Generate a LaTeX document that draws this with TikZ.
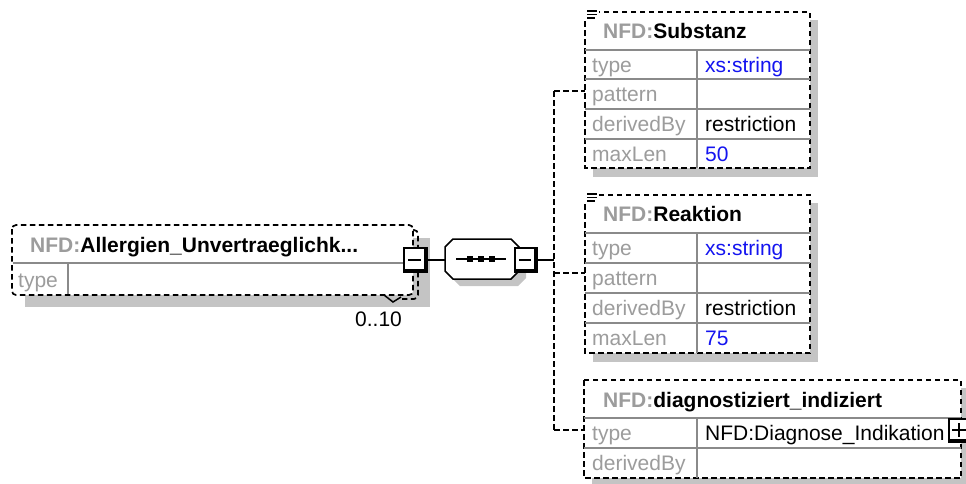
\documentclass[tikz,border=0pt]{standalone}
\usepackage{fontspec}
\setmainfont{Liberation Sans}
\definecolor{lblc}{HTML}{9C9C9C}
\definecolor{shd}{HTML}{C4C4C4}
\definecolor{rowc}{HTML}{8A8A8A}
\definecolor{valblue}{HTML}{1414F0}
\newcommand\myfs{\fontsize{21}{24}\selectfont}
\begin{document}
\begin{tikzpicture}[x=1pt,y=-1pt,
  dbox/.style={draw=black, line width=1.7pt, dash pattern=on 5.5pt off 3.5pt, fill=white},
  dline/.style={draw=black, line width=1.7pt, dash pattern=on 5.5pt off 3.5pt},
  shadowfill/.style={fill=shd, draw=none},
  rowline/.style={draw=rowc, line width=1.4pt},
  lbl/.style={anchor=base west, inner sep=0pt, text=lblc, font=\myfs},
  val/.style={anchor=base west, inner sep=0pt, font=\myfs},
  bval/.style={anchor=base west, inner sep=0pt, font=\myfs, text=valblue},
  ttl/.style={anchor=base west, inner sep=0pt, font=\myfs\bfseries},
  btnbox/.style={draw=black, fill=white, line width=1.8pt},
  btnthick/.style={draw=black, line width=3.4pt},
  conn/.style={draw=black, line width=1.5pt}
]
\useasboundingbox (0,0) rectangle (966,483);

% ---------- main element ----------
\fill[shadowfill] (25,238) rectangle (430,307);
\draw[dline, rounded corners=4pt] (413,230) -- (418,230) -- (418,299) -- (402,299);
\draw[dbox, rounded corners=4pt] (12,225) rectangle (413,295);
\draw[rowline] (13,263) -- (412,263);
\draw[rowline] (68,263) -- (68,294);
\node[ttl] (mainT) at (30,252) {\textcolor{lblc}{NFD:}Allergien\_Unvertraeglichk...};
\node[lbl] (mainType) at (18,287) {type};
\draw[line width=1.5pt] (384,295) -- (393,302) -- (401,297);
\node[val] (mult) at (355,326) {0..10};
% minus button of main element
\draw[btnbox] (404,248) rectangle (427,272);
\draw[btnthick] (426,248) -- (426,271) -- (404,271);
\draw[line width=1.6pt] (408,260) -- (421,260);
\coordinate (mainR) at (427,260);

% ---------- sequence compositor ----------
\fill[shadowfill] (452,254) -- (460,246) -- (518,246) -- (526,254) -- (526,278) -- (518,286) -- (460,286) -- (452,278) -- cycle;
\draw[fill=white, draw=black, line width=1.5pt] (445,247) -- (453,239) -- (511,239) -- (519,247) -- (519,271) -- (511,279) -- (453,279) -- (445,271) -- cycle;
\coordinate (seqL) at (445,260);
\draw[line width=1.6pt] (456,259) -- (506,259);
\foreach \xx in {470,481,492} \fill (\xx-3,256) rectangle (\xx+3,262);
\draw[btnbox] (515,248) rectangle (537,272);
\draw[btnthick] (536,248) -- (536,271) -- (515,271);
\draw[line width=1.6pt] (519,260) -- (531,260);
\coordinate (seqR) at (537,260);
\coordinate (junc) at (554,260);
\coordinate (vtop) at (554,91);
\coordinate (vmid) at (554,273);
\coordinate (vbot) at (554,430);
\coordinate (c1L) at (585,91);
\coordinate (c2L) at (585,273);
\coordinate (c3L) at (584,430);

\draw[conn] (mainR) -- (seqL);
\draw[conn] (seqR) -- (junc);
\draw[dline] (vtop) -- (vbot);
\draw[dline] (vtop) -- (c1L);
\draw[dline] (vmid) -- (c2L);
\draw[dline] (vbot) -- (c3L);

% ---------- child 1: Substanz ----------
\fill[shadowfill] (593,20) rectangle (818,177);
\draw[dbox] (585,12) rectangle (810,168);
\foreach \yy in {50,79,109,139} \draw[rowline] (585,\yy) -- (810,\yy);
\draw[rowline] (697,50) -- (697,168);
\fill[white] (582,8) rectangle (599,20);
\draw[line width=1.6pt] (587,11) -- (597,11) (587,14.5) -- (597,14.5) (587,18) -- (595,18);
\node[ttl] (t1) at (603,38.5) {\textcolor{lblc}{NFD:}Substanz};
\node[lbl] (l1a) at (592,72) {type};
\node[lbl] (l1b) at (592,101.5) {pattern};
\node[lbl] (l1c) at (592,131.5) {derivedBy};
\node[lbl] (l1d) at (592,161) {maxLen};
\node[bval] (v1a) at (705,72) {xs:string};
\node[val] (v1c) at (705,131.5) {restriction};
\node[bval] (v1d) at (705,161) {50};

% ---------- child 2: Reaktion ----------
\fill[shadowfill] (593,203) rectangle (818,362);
\draw[dbox] (585,195) rectangle (810,353);
\foreach \yy in {233,263,293,323} \draw[rowline] (585,\yy) -- (810,\yy);
\draw[rowline] (697,233) -- (697,353);
\fill[white] (582,191) rectangle (599,203);
\draw[line width=1.6pt] (587,194) -- (597,194) (587,197.5) -- (597,197.5) (587,201) -- (595,201);
\node[ttl] (t2) at (603,221.5) {\textcolor{lblc}{NFD:}Reaktion};
\node[lbl] (l2a) at (592,255.5) {type};
\node[lbl] (l2b) at (592,285.5) {pattern};
\node[lbl] (l2c) at (592,315.5) {derivedBy};
\node[lbl] (l2d) at (592,345.5) {maxLen};
\node[bval] (v2a) at (705,255.5) {xs:string};
\node[val] (v2c) at (705,315.5) {restriction};
\node[bval] (v2d) at (705,345.5) {75};

% ---------- child 3: diagnostiziert_indiziert ----------
\fill[shadowfill] (592,388) rectangle (969,486);
\draw[dbox] (584,380) rectangle (961,478);
\foreach \yy in {418,448} \draw[rowline] (584,\yy) -- (961,\yy);
\draw[rowline] (697,418) -- (697,478);
\node[ttl] (t3) at (603,407) {\textcolor{lblc}{NFD:}diagnostiziert\_indiziert};
\node[lbl] (l3a) at (592,440) {type};
\node[lbl] (l3b) at (592,470) {derivedBy};
\node[val] (v3a) at (705,440) {NFD:Diagnose\_Indikation};
\draw[btnbox] (949,419) rectangle (971,442);
\draw[btnthick] (949,441) -- (971,441);
\draw[line width=1.6pt] (952,430) -- (966,430) (959,423) -- (959,437);
\end{tikzpicture}
\end{document}
